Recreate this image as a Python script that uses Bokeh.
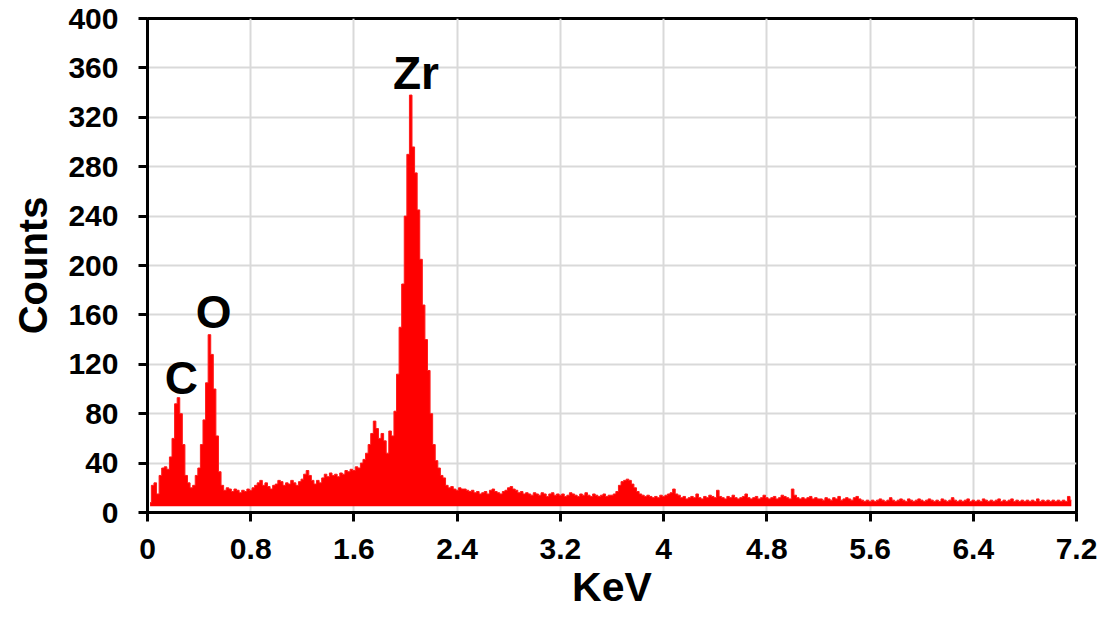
from bokeh.plotting import figure
from bokeh.models import FixedTicker
from bokeh.core.properties import value
from bokeh.embed import file_html
from bokeh.resources import INLINE
import numpy as np

# ---- data ----
KEV_START = 0.02   # energy of first channel (keV)
KEV_STEP = 0.02    # channel width (keV)
counts = [
    8, 22, 24, 15, 30, 36, 37, 35, 45, 60, 88, 93, 80, 55, 30, 24, 20, 22, 30, 36,
    55, 75, 105, 144, 128, 100, 62, 33, 22, 18, 20, 19, 17, 19, 18, 16, 18, 17, 19, 18,
    20, 22, 24, 26, 22, 24, 21, 19, 22, 23, 26, 25, 22, 24, 23, 26, 24, 22, 25, 27,
    31, 34, 30, 26, 23, 26, 24, 28, 31, 29, 32, 30, 31, 29, 32, 31, 34, 33, 35, 34,
    37, 36, 40, 43, 48, 55, 64, 74, 68, 60, 64, 58, 48, 66, 62, 82, 112, 150, 185, 240,
    290, 338, 296, 275, 245, 205, 168, 140, 115, 80, 55, 42, 36, 30, 28, 22, 20, 21, 19, 18,
    20, 19, 19, 18, 17, 18, 16, 17, 15, 16, 17, 15, 18, 19, 17, 16, 15, 17, 18, 20,
    21, 19, 18, 16, 17, 15, 16, 15, 14, 16, 15, 14, 16, 15, 13, 15, 16, 14, 15, 14,
    15, 13, 14, 16, 15, 14, 13, 15, 14, 16, 14, 13, 15, 14, 13, 14, 15, 13, 14, 14,
    15, 17, 22, 25, 26, 27, 26, 23, 20, 17, 15, 14, 13, 14, 13, 12, 13, 12, 14, 13,
    14, 15, 16, 19, 15, 14, 12, 13, 11, 12, 13, 12, 15, 12, 11, 13, 12, 14, 13, 12,
    18, 13, 12, 11, 13, 12, 14, 12, 11, 12, 13, 15, 12, 11, 12, 13, 11, 12, 14, 12,
    11, 12, 13, 11, 12, 14, 13, 12, 11, 19, 14, 12, 11, 12, 11, 12, 13, 11, 12, 11,
    11, 10, 12, 11, 10, 12, 11, 13, 10, 11, 12, 11, 10, 12, 13, 11, 10, 9, 10, 9,
    10, 9, 10, 11, 10, 9, 10, 12, 10, 9, 10, 11, 10, 9, 11, 10, 9, 10, 11, 10,
    9, 10, 11, 10, 9, 10, 9, 11, 10, 9, 10, 12, 10, 9, 10, 9, 10, 11, 9, 10,
    9, 10, 9, 11, 10, 9, 10, 9, 10, 11, 9, 10, 9, 10, 11, 9, 10, 9, 10, 9,
    10, 9, 10, 9, 11, 9, 10, 9, 10, 9, 10, 9, 10, 9, 10, 9, 13, 10,
]
BASE = 5  # spectrum baseline sits slightly above the axis

x_ticks = [0, 0.8, 1.6, 2.4, 3.2, 4.0, 4.8, 5.6, 6.4, 7.2]
x_tick_labels = ["0", "0.8", "1.6", "2.4", "3.2", "4", "4.8", "5.6", "6.4", "7.2"]
y_ticks = [0, 40, 80, 120, 160, 200, 240, 280, 320, 360, 400]

peak_names = ["C", "O", "Zr"]
peak_kev = [0.262, 0.513, 2.08]
peak_counts = [109, 162, 356]

energies = KEV_START + KEV_STEP * np.arange(len(counts))

FONT = "Liberation Sans"

p = figure(
    frame_width=929, frame_height=494,
    x_range=(0, 7.2), y_range=(0, 400),
    output_backend="svg", toolbar_location=None,
    min_border_left=147, min_border_right=23,
    min_border_top=18, min_border_bottom=0,
    background_fill_color="white", border_fill_color="white",
)

p.varea_step(x=energies, y1=BASE, y2=counts, step_mode="center",
             fill_color="#ff0000")
p.step(x=energies, y=counts, mode="center", line_color="#ff1a1a", line_width=1)

p.text(x=peak_kev, y=peak_counts, text=peak_names,
       text_font=value(FONT), text_font_style="bold", text_font_size="46px",
       text_align="center", text_baseline="middle", text_color="black")

p.xaxis.ticker = FixedTicker(ticks=x_ticks)
p.yaxis.ticker = FixedTicker(ticks=y_ticks)
p.xaxis.major_label_overrides = {t: l for t, l in zip(x_ticks, x_tick_labels)}

p.xaxis.axis_label = "KeV"
p.yaxis.axis_label = "Counts"

for ax in (p.xaxis, p.yaxis):
    ax.axis_line_width = 3
    ax.axis_line_color = "black"
    ax.major_tick_line_width = 3
    ax.major_tick_line_color = "black"
    ax.major_tick_out = 9
    ax.major_tick_in = 0
    ax.minor_tick_line_color = None
    ax.major_label_text_font = FONT
    ax.major_label_text_font_style = "bold"
    ax.major_label_text_font_size = "30px"
    ax.major_label_text_color = "black"
    ax.axis_label_text_font = FONT
    ax.axis_label_text_font_style = "bold"
    ax.axis_label_text_color = "black"

p.xaxis.axis_label_text_font_size = "41px"
p.yaxis.axis_label_text_font_size = "40px"
p.xaxis.major_label_standoff = 17
p.yaxis.major_label_standoff = 20
p.xaxis.axis_label_standoff = 2
p.yaxis.axis_label_standoff = 10

p.grid.grid_line_color = "#d9d9d9"
p.grid.grid_line_width = 2

p.outline_line_color = "black"
p.outline_line_width = 3
p.outline_line_alpha = 1

open("out.html", "w").write(file_html(p, INLINE))
